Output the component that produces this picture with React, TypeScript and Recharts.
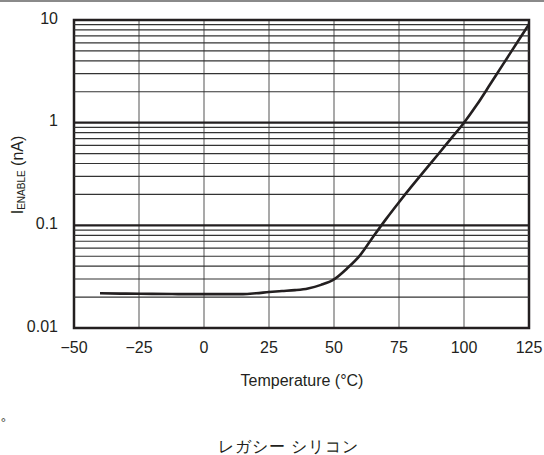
import React from "react";
import {
  LineChart,
  Line,
  XAxis,
  YAxis,
  CartesianGrid,
  ReferenceLine,
  ReferenceArea,
} from "recharts";

// temperature (°C) and enable current (nA)
const temps = [-40, -30, -20, -10, 0, 10, 15, 20, 25, 30, 35, 40, 45, 50, 55, 60, 65, 70, 75, 80, 85, 90, 95, 100, 105, 110, 115, 120, 125];
const enableCurrent = [0.0218, 0.0216, 0.0215, 0.0214, 0.0214, 0.0214, 0.0214, 0.0218, 0.0224, 0.0229, 0.0234, 0.0243, 0.0263, 0.0298, 0.038, 0.051, 0.077, 0.115, 0.168, 0.242, 0.345, 0.49, 0.7, 1.0, 1.5, 2.35, 3.7, 5.8, 9.1];

const xTicks = [-50, -25, 0, 25, 50, 75, 100, 125];
const yTicks = [0.01, 0.1, 1, 10];
const majorLines = [0.1, 1];
const minorLines = [2, 3, 4, 5, 6, 7, 8, 9].flatMap((m) => [m * 0.01, m * 0.1, m * 1]);

const data = temps.map((t, i) => ({ temp: t, current: enableCurrent[i] }));

const INK = "#231f20";
const FONT = "'Liberation Sans', Arial, sans-serif";

const formatX = (v: number) => (v < 0 ? `\u2212${Math.abs(v)}` : `${v}`);
const formatY = (v: number) => `${v}`;

function YLabel() {
  return (
    <text
      x={23}
      y={175}
      transform="rotate(-90, 23, 175)"
      textAnchor="middle"
      fill={INK}
      fontSize={16}
      fontFamily={FONT}
    >
      I<tspan fontSize={10} dy={2}>ENABLE</tspan>
      <tspan dy={-2}> (nA)</tspan>
    </text>
  );
}

function XLabel() {
  return (
    <text x={302} y={386} textAnchor="middle" fill={INK} fontSize={16} fontFamily={FONT}>
      Temperature (°C)
    </text>
  );
}

export default function App() {
  return (
    <div style={{ position: "absolute", left: 0, top: 0, width: 544, height: 455, background: "#fff" }}>
      <div style={{ position: "absolute", left: 0, top: 0, width: 544, height: 2, background: "#8a8a8a" }} />
      <LineChart
        width={544}
        height={400}
        data={data}
        margin={{ top: 20, right: 15, left: 0, bottom: 12 }}
        style={{ fontFamily: FONT }}
      >
        <CartesianGrid horizontal={false} stroke="#8c8c8c" strokeWidth={1.5} />
        <XAxis
          dataKey="temp"
          type="number"
          domain={[-50, 125]}
          ticks={xTicks}
          tickFormatter={formatX}
          tickLine={false}
          axisLine={false}
          tickSize={0}
          tickMargin={14}
          height={60}
          tick={{ fontSize: 16, fill: INK }}
          label={<XLabel />}
        />
        <YAxis
          type="number"
          scale="log"
          domain={[0.01, 10]}
          allowDataOverflow
          ticks={yTicks}
          tickFormatter={formatY}
          tickLine={false}
          axisLine={false}
          tickSize={0}
          tickMargin={16}
          width={74}
          tick={{ fontSize: 16, fill: INK, dy: -2 }}
          label={<YLabel />}
        />
        {minorLines.map((v) => (
          <ReferenceLine key={v} y={v} stroke="#333" strokeWidth={1.2} />
        ))}
        {majorLines.map((v) => (
          <ReferenceLine key={v} y={v} stroke={INK} strokeWidth={2.2} />
        ))}
        <Line
          type="monotone"
          dataKey="current"
          stroke={INK}
          strokeWidth={2.6}
          dot={false}
          isAnimationActive={false}
        />
        <ReferenceArea x1={-50} x2={125} y1={0.01} y2={10} fill="none" stroke={INK} strokeWidth={2.5} />
      </LineChart>
      <div style={{ position: "absolute", left: 0, top: 405, fontSize: 16, color: INK }}>。</div>
      <div
        style={{
          position: "absolute",
          left: 0,
          top: 437,
          width: 576,
          textAlign: "center",
          fontSize: 16,
          letterSpacing: 1,
          color: INK,
        }}
      >
        レガシー シリコン
      </div>
    </div>
  );
}
